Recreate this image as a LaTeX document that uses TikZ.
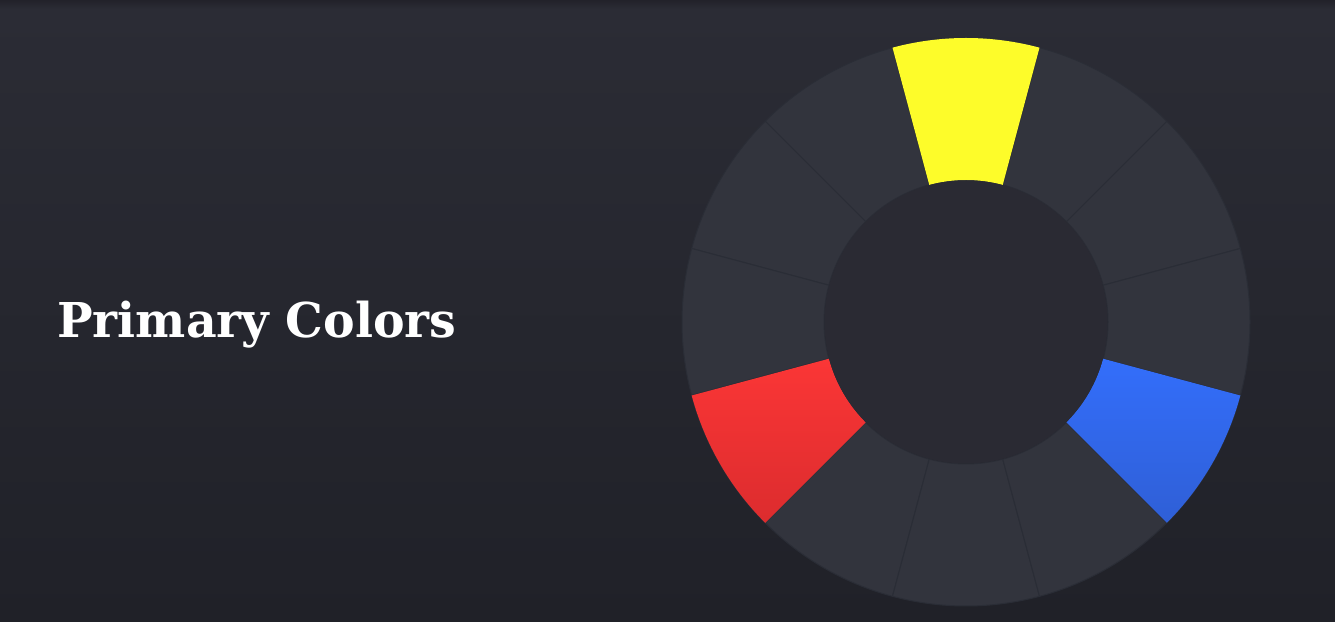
\documentclass[tikz,border=0pt]{standalone}
\usepackage{fontspec}
\setmainfont{DejaVu Serif}
\begin{document}
\begin{tikzpicture}[x=1pt,y=1pt,
  seg/.style={fill=segc,draw=segline,line width=1pt}]
\definecolor{bgtop}{HTML}{2B2C35}
\definecolor{bgbot}{HTML}{202128}
\definecolor{bgedge}{HTML}{22222A}
\definecolor{segc}{HTML}{32343D}
\definecolor{segline}{HTML}{2A2D36}
\definecolor{innerc}{HTML}{2A2A33}
\definecolor{yel}{HTML}{FDFC2A}
\definecolor{redt}{HTML}{FB3636}
\definecolor{redb}{HTML}{DC2C2E}
\definecolor{blut}{HTML}{336EFB}
\definecolor{blub}{HTML}{2F5FD6}
\useasboundingbox (0,0) rectangle (1335,621);
\shade[top color=bgtop,bottom color=bgbot] (0,0) rectangle (1335,612);
\shade[top color=bgedge,bottom color=bgtop] (0,612) rectangle (1335,621);
\begin{scope}[shift={(966pt,299pt)}]
  \foreach \a in {15,45,...,345}{
    \path[seg] (\a:284pt) arc[start angle=\a,end angle=\a+30,radius=284pt]
      -- (\a+30:142pt) arc[start angle=\a+30,end angle=\a,radius=142pt] -- cycle;
  }
  \fill[yel] (75:284pt) arc[start angle=75,end angle=105,radius=284pt]
      -- (105:142pt) arc[start angle=105,end angle=75,radius=142pt] -- cycle;
  \shade[top color=redt,bottom color=redb] (195:284pt) arc[start angle=195,end angle=225,radius=284pt]
      -- (225:142pt) arc[start angle=225,end angle=195,radius=142pt] -- cycle;
  \shade[top color=blut,bottom color=blub] (315:284pt) arc[start angle=315,end angle=345,radius=284pt]
      -- (345:142pt) arc[start angle=345,end angle=315,radius=142pt] -- cycle;
  \fill[innerc] (0,0) circle[radius=141.5pt];
\end{scope}
\node[anchor=base west,inner sep=0pt,text=white,xscale=0.988,font=\fontsize{48}{48}\selectfont\bfseries] (title) at (57,283) {Primary Colors};
\end{tikzpicture}
\end{document}
